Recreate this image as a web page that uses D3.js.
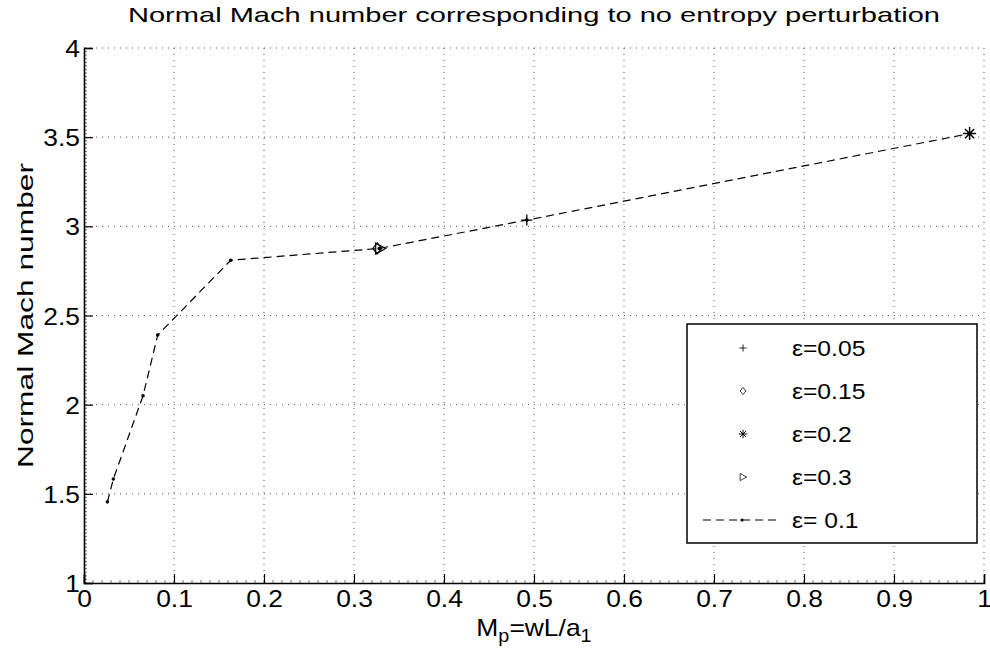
<!DOCTYPE html>
<html>
<head>
<meta charset="utf-8">
<script src="https://cdn.jsdelivr.net/npm/d3@7"></script>
<style>
  body { margin: 0; background: #fff; }
  text { font-family: "Liberation Sans", Arial, Helvetica, sans-serif; fill: #000; }
</style>
</head>
<body>
<div id="chart"></div>
<script>
// data
const xTicks = [0, 0.1, 0.2, 0.3, 0.4, 0.5, 0.6, 0.7, 0.8, 0.9, 1];
const yTicks = [1, 1.5, 2, 2.5, 3, 3.5, 4];
const xTickLabels = ['0', '0.1', '0.2', '0.3', '0.4', '0.5', '0.6', '0.7', '0.8', '0.9', '1'];
const yTickLabels = ['1', '1.5', '2', '2.5', '3', '3.5', '4'];

// eps = 0.1 dashed line
const lineX = [0.026, 0.0326, 0.0656, 0.0819, 0.163, 0.328, 0.492, 0.984];
const lineY = [1.455, 1.583, 2.05, 2.39, 2.81, 2.876, 3.035, 3.52];

// single marker series
const eps005X = [0.492], eps005Y = [3.035];
const eps015X = [0.328], eps015Y = [2.876];
const eps02X = [0.984], eps02Y = [3.52];
const eps03X = [0.329], eps03Y = [2.876];

const legendLabels = ['ε=0.05', 'ε=0.15', 'ε=0.2', 'ε=0.3', 'ε= 0.1'];
const legendKinds = ['plus', 'diamond', 'star', 'triangle', 'line'];

const W = 990, H = 649;
const margin = { top: 48, right: 6, bottom: 66, left: 84 };

// text in the picture is wider than Liberation Sans, stretch it horizontally
function stretch(sel, sx) {
  sel.each(function () {
    const len = this.getComputedTextLength();
    d3.select(this).attr('textLength', len * sx).attr('lengthAdjust', 'spacingAndGlyphs');
  });
}

const svg = d3.select('#chart')
  .append('svg')
    .attr('width', W)
    .attr('height', H);

const x = d3.scaleLinear().domain([0, 1]).range([margin.left, W - margin.right]);
const y = d3.scaleLinear().domain([1, 4]).range([H - margin.bottom, margin.top]);

// grid
const grid = svg.append('g')
  .attr('stroke', '#555')
  .attr('stroke-width', 1)
  .attr('stroke-dasharray', '1,5');
grid.selectAll('.gx')
  .data(xTicks.slice(1))
  .join('line')
    .attr('x1', d => x(d)).attr('x2', d => x(d))
    .attr('y1', y(1)).attr('y2', y(4));
grid.selectAll('.gy')
  .data(yTicks.slice(1))
  .join('line')
    .attr('y1', d => y(d)).attr('y2', d => y(d))
    .attr('x1', x(0)).attr('x2', x(1));

// minor ticks
const minor = svg.append('g').attr('stroke', '#777').attr('stroke-width', 1);
minor.selectAll('.mx')
  .data(d3.range(0, 1.0001, 0.01))
  .join('line')
    .attr('x1', d => x(d)).attr('x2', d => x(d))
    .attr('y1', y(1)).attr('y2', y(1) - 3);
minor.selectAll('.my')
  .data(d3.range(1, 4.0001, 0.02))
  .join('line')
    .attr('y1', d => y(d)).attr('y2', d => y(d))
    .attr('x1', x(0)).attr('x2', x(0) + 3);

// axes
const xAxis = svg.append('g')
  .attr('transform', `translate(0,${y(1)})`)
  .call(d3.axisBottom(x).tickValues(xTicks).tickSize(-9).tickPadding(7)
    .tickFormat((d, i) => xTickLabels[i]));
const yAxis = svg.append('g')
  .attr('transform', `translate(${x(0)},0)`)
  .call(d3.axisLeft(y).tickValues(yTicks).tickSize(-9).tickPadding(4)
    .tickFormat((d, i) => yTickLabels[i]));
[xAxis, yAxis].forEach(a => {
  a.select('.domain').attr('stroke', '#000').attr('stroke-width', 1.6);
  a.selectAll('.tick line').attr('stroke', '#000').attr('stroke-width', 1.2);
  a.selectAll('.tick text')
    .style('font-family', '"Liberation Sans", Arial, sans-serif')
    .style('font-size', '24px');
  stretch(a.selectAll('.tick text'), 1.1);
});
yAxis.selectAll('.tick text').attr('dy', '0.36em');

// dashed line
const pts = lineX.map((v, i) => [v, lineY[i]]);
svg.append('path')
  .datum(pts)
  .attr('fill', 'none')
  .attr('stroke', '#000')
  .attr('stroke-width', 1.2)
  .attr('stroke-dasharray', '8,5')
  .attr('d', d3.line().x(d => x(d[0])).y(d => y(d[1])));
svg.append('g').selectAll('circle')
  .data(pts)
  .join('circle')
    .attr('cx', d => x(d[0])).attr('cy', d => y(d[1]))
    .attr('r', 1.8).attr('fill', '#000');

// marker shapes
function marker(g, kind, cx, cy) {
  const s = 5.5;
  if (kind === 'plus') {
    g.append('path').attr('d', `M${cx - s},${cy}H${cx + s}M${cx},${cy - s}V${cy + s}`)
      .attr('stroke', '#000').attr('stroke-width', 1.3);
  } else if (kind === 'diamond') {
    g.append('path').attr('d', `M${cx},${cy - s}L${cx + s * 0.8},${cy}L${cx},${cy + s}L${cx - s * 0.8},${cy}Z`)
      .attr('fill', 'none').attr('stroke', '#000').attr('stroke-width', 1.2);
  } else if (kind === 'triangle') {
    g.append('path').attr('d', `M${cx + s},${cy}L${cx - s * 0.8},${cy - s}L${cx - s * 0.8},${cy + s}Z`)
      .attr('fill', 'none').attr('stroke', '#000').attr('stroke-width', 1.2);
  } else if (kind === 'star') {
    const r = 6.5;
    let d = '';
    [0, 45, 90, 135].forEach(a => {
      const t = a * Math.PI / 180;
      d += `M${cx - r * Math.cos(t)},${cy - r * Math.sin(t)}L${cx + r * Math.cos(t)},${cy + r * Math.sin(t)}`;
    });
    g.append('path').attr('d', d).attr('stroke', '#000').attr('stroke-width', 1.5);
  }
}

const mg = svg.append('g');
eps005X.forEach((v, i) => marker(mg, 'plus', x(v), y(eps005Y[i])));
eps015X.forEach((v, i) => marker(mg, 'diamond', x(v) - 2, y(eps015Y[i])));
eps02X.forEach((v, i) => marker(mg, 'star', x(v), y(eps02Y[i])));
eps03X.forEach((v, i) => marker(mg, 'triangle', x(v), y(eps03Y[i])));

// legend
const lg = svg.append('g');
lg.append('rect')
  .attr('x', 687).attr('y', 324).attr('width', 290).attr('height', 219)
  .attr('fill', '#fff').attr('stroke', '#000').attr('stroke-width', 1.5);
const rowY = d3.scalePoint().domain(d3.range(legendLabels.length)).range([348, 520]);
legendLabels.forEach((lab, i) => {
  const ry = rowY(i);
  if (legendKinds[i] === 'line') {
    lg.append('line').attr('x1', 703).attr('x2', 778).attr('y1', ry).attr('y2', ry)
      .attr('stroke', '#000').attr('stroke-width', 1.1).attr('stroke-dasharray', '8,5');
    lg.append('circle').attr('cx', 742).attr('cy', ry).attr('r', 1.6).attr('fill', '#000');
  } else {
    const sm = lg.append('g').attr('transform', `translate(743,${ry}) scale(0.65) translate(-743,${-ry})`);
    marker(sm, legendKinds[i], 743, ry);
  }
  const t = lg.append('text')
    .attr('x', 792).attr('y', ry).attr('dy', '0.36em')
    .style('font-size', '22px')
    .text(lab);
  stretch(t, 1.12);
});

// title and labels
const title = svg.append('text')
  .attr('x', (x(0) + x(1)) / 2).attr('y', 22)
  .attr('text-anchor', 'middle')
  .style('font-size', '21px')
  .text('Normal Mach number corresponding to no entropy perturbation');
title.attr('textLength', 812).attr('lengthAdjust', 'spacingAndGlyphs');

svg.append('text')
  .attr('transform', `translate(33,${(y(1) + y(4)) / 2}) rotate(-90)`)
  .attr('text-anchor', 'middle')
  .style('font-size', '22px')
  .attr('textLength', 305)
  .attr('lengthAdjust', 'spacingAndGlyphs')
  .text('Normal Mach number');

const xl = svg.append('text')
  .attr('x', (x(0) + x(1)) / 2).attr('y', 636)
  .attr('text-anchor', 'middle')
  .style('font-size', '24px');
xl.append('tspan').text('M');
xl.append('tspan').attr('dy', 6).style('font-size', '18px').text('p');
xl.append('tspan').attr('dy', -6).text('=wL/a');
xl.append('tspan').attr('dy', 6).style('font-size', '18px').text('1');
stretch(xl, 1.1);
</script>
</body>
</html>
